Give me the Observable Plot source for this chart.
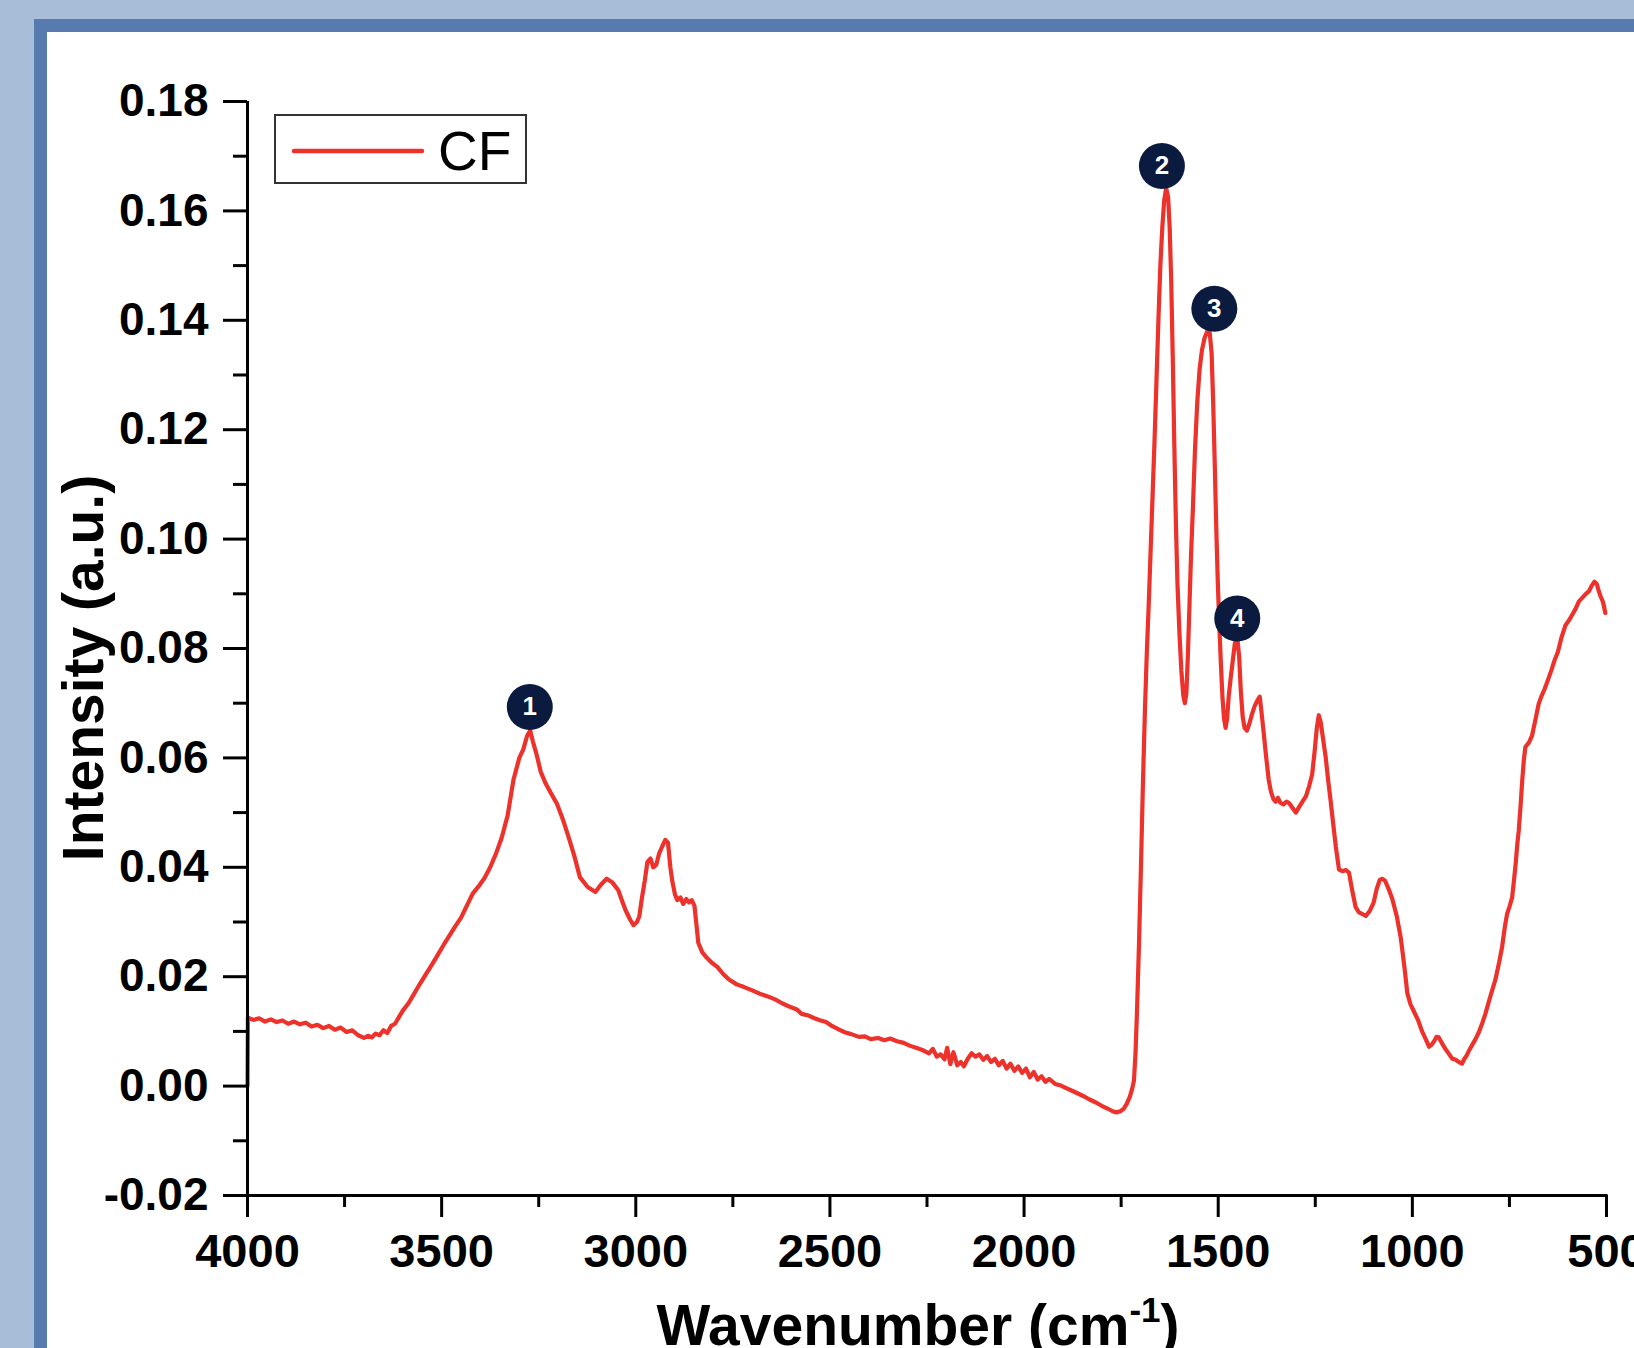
<!DOCTYPE html>
<html><head><meta charset="utf-8">
<script src="https://cdn.jsdelivr.net/npm/d3@7"></script>
<script src="https://cdn.jsdelivr.net/npm/@observablehq/plot@0.6"></script>
<style>
html,body{margin:0;padding:0;}
body{width:1634px;height:1348px;overflow:hidden;background:#a8bdd8;position:relative;font-family:"Liberation Sans",Arial,sans-serif;}
#panel{position:absolute;left:34px;top:19px;width:1600px;height:1329px;box-sizing:border-box;background:#fff;border-left:13px solid #577bae;border-top:13px solid #577bae;}
#chart{position:absolute;left:0;top:0;}
#chart svg{overflow:visible;max-width:none;}
</style></head><body>
<div id="panel"></div>
<div id="chart"></div>
<script>
const wavenumber = [
4000,3999,3985,3970,3955,3940,3925,3910,3895,3880,3865,3850,3835,3820,3805,3790,3775,3760,3745,3730,3715,3700,3690,3680,3670,3660,3650,3640,3630,3620,3610,3600,
3585,3570,3555,3540,3525,3510,3495,3480,3465,3450,3435,3420,3405,3390,3375,3360,3345,3330,3315,3300,3290,3280,3272,3265,3255,3245,3232,3218,3203,3188,3173,3158,3144,3124,3104,3090,3075,3060,3045,3035,3026,3015,3006,2997,2991,2984,2977,2970,2962,2955,2947,2940,2932,2924,2917,2911,2906,2899,2893,2885,2878,2870,2863,2856,2849,2843,2839,2829,2819,2805,2790,2775,2760,2740,2721,2700,2681,2660,2640,2622,2600,2585,2573,2555,2540,2524,2510,2495,2475,2460,2445,2425,2410,2395,2376,2360,2345,2327,2310,2295,2278,2262,2245,2235,2225,2215,2205,2198,2190,2182,2172,2163,2155,2145,2135,2125,2115,2105,2095,2085,2075,2065,2055,2045,2035,2025,2015,2005,1995,1985,1975,1965,1955,1945,1935,1920,1905,1890,1875,1860,1845,1830,1815,1800,1785,1772,1762,1752,1744,1736,1728,1722,1717,
1713,1709,1704,1699,1694,1689,1684,1679,1674,1669,1664,1659,1654,1649,1644,1639,1634,1629,1625,1621,1617,1613,1609,1605,1600,1595,1590,1586,1582,1578,1574,1570,1565,1560,1554,1548,1542,1535,1528,1522,1517,1513,1509,1505,1501,1497,1493,1489,1485,1481,1477,1473,1468,1463,1457,1451,1446,1442,1437,1432,1426,1420,1413,1406,1399,1393,1388,1382,1377,1370,1364,1358,1352,1346,1340,1332,1324,1317,1308,1300,1292,1283,1274,1266,1258,1252,1246,1241,1236,1230,1223,1217,1211,1204,1197,1189,1180,1171,1163,1155,1146,1138,1130,1120,1110,1100,1092,1084,1077,1070,1062,1052,1040,1030,1020,1013,1005,995,985,975,965,957,950,944,938,932,925,915,905,897,888,880,872,866,860,854,846,838,829,820,812,800,786,776,769,762,756,749,743,738,734,730,726,721,717,713,709,700,692,683,675,668,660,652,642,633,625,616,606,596,588,580,571,562,553,545,538,531,525,520,515,509,503
];
const intensity = [
0.0000,0.0125,0.0121,0.0124,0.0118,0.0122,0.0117,0.0120,0.0114,0.0118,0.0113,0.0116,0.0109,0.0112,0.0106,0.0110,0.0103,0.0107,0.0099,0.0102,0.0093,0.0088,0.0092,0.0089,0.0096,0.0093,0.0102,0.0097,0.0110,0.0114,0.0126,0.0138,
0.0152,0.0170,0.0188,0.0205,0.0222,0.0240,0.0258,0.0275,0.0292,0.0308,0.0330,0.0352,0.0365,0.0380,0.0400,0.0425,0.0455,0.0495,0.0560,0.0600,0.0615,0.0640,0.0650,0.0630,0.0605,0.0575,0.0553,0.0535,0.0516,0.0488,0.0455,0.0420,0.0382,0.0364,0.0355,0.0368,0.0379,0.0372,0.0358,0.0338,0.0321,0.0305,0.0294,0.0300,0.0310,0.0345,0.0375,0.0410,0.0416,0.0400,0.0405,0.0425,0.0438,0.0450,0.0445,0.0400,0.0375,0.0350,0.0340,0.0345,0.0333,0.0342,0.0336,0.0340,0.0330,0.0290,0.0262,0.0245,0.0236,0.0226,0.0218,0.0205,0.0195,0.0186,0.0181,0.0175,0.0169,0.0164,0.0158,0.0151,0.0144,0.0140,0.0132,0.0129,0.0124,0.0120,0.0117,0.0110,0.0103,0.0098,0.0095,0.0090,0.0091,0.0086,0.0088,0.0084,0.0087,0.0082,0.0079,0.0074,0.0070,0.0066,0.0060,0.0068,0.0054,0.0058,0.0049,0.0070,0.0040,0.0062,0.0038,0.0044,0.0036,0.0050,0.0060,0.0054,0.0058,0.0048,0.0055,0.0044,0.0050,0.0038,0.0046,0.0032,0.0041,0.0028,0.0036,0.0024,0.0032,0.0016,0.0026,0.0012,0.0018,0.0008,0.0013,0.0004,0.0001,-0.0004,-0.0009,-0.0014,-0.0019,-0.0025,-0.0030,-0.0036,-0.0041,-0.0046,-0.0048,-0.0046,-0.0042,-0.0033,-0.0020,-0.0006,0.0010,
0.0060,0.0140,0.0260,0.0400,0.0550,0.0680,0.0790,0.0880,0.0980,0.1080,0.1180,0.1290,0.1400,0.1500,0.1570,0.1620,0.1642,0.1625,0.1570,0.1470,0.1330,0.1170,0.1030,0.0920,0.0830,0.0760,0.0715,0.0700,0.0718,0.0790,0.0880,0.0970,0.1060,0.1160,0.1250,0.1310,0.1345,0.1368,0.1380,0.1378,0.1340,0.1250,0.1140,0.1020,0.0920,0.0840,0.0770,0.0710,0.0672,0.0655,0.0672,0.0712,0.0745,0.0775,0.0810,0.0820,0.0785,0.0725,0.0675,0.0655,0.0650,0.0662,0.0680,0.0695,0.0705,0.0712,0.0680,0.0640,0.0605,0.0560,0.0538,0.0525,0.0520,0.0527,0.0518,0.0515,0.0520,0.0517,0.0508,0.0500,0.0510,0.0520,0.0530,0.0548,0.0570,0.0610,0.0655,0.0678,0.0665,0.0635,0.0600,0.0560,0.0525,0.0480,0.0437,0.0396,0.0393,0.0395,0.0390,0.0358,0.0327,0.0318,0.0315,0.0311,0.0320,0.0335,0.0360,0.0377,0.0379,0.0375,0.0362,0.0343,0.0310,0.0272,0.0215,0.0170,0.0150,0.0135,0.0120,0.0100,0.0085,0.0072,0.0076,0.0082,0.0090,0.0089,0.0080,0.0068,0.0058,0.0050,0.0048,0.0044,0.0041,0.0050,0.0056,0.0065,0.0075,0.0085,0.0098,0.0115,0.0132,0.0162,0.0195,0.0228,0.0254,0.0290,0.0315,0.0330,0.0345,0.0378,0.0406,0.0440,0.0467,0.0515,0.0559,0.0595,0.0620,0.0628,0.0640,0.0670,0.0698,0.0712,0.0725,0.0740,0.0760,0.0780,0.0794,0.0820,0.0842,0.0852,0.0862,0.0872,0.0886,0.0893,0.0900,0.0905,0.0915,0.0922,0.0918,0.0905,0.0895,0.0885,0.0865
];
const xTicks = [4000,3500,3000,2500,2000,1500,1000,500];
const xMinorTicks = [3750,3250,2750,2250,1750,1250,750];
const yTicks = [-0.02,0.00,0.02,0.04,0.06,0.08,0.10,0.12,0.14,0.16,0.18];
const yMinorTicks = [-0.01,0.01,0.03,0.05,0.07,0.09,0.11,0.13,0.15,0.17];
const seriesName = "CF";
const peakLabels = ["1","2","3","4"];
const peakWn = [3273,1645,1510,1451];
const peakY = [0.0693,0.1682,0.1421,0.0855];
const xTitle = "Wavenumber (cm";
const xTitleSup = "-1";
const yTitle = "Intensity (a.u.)";

const data = wavenumber.map((w,i)=>({w, v: intensity[i]}));
const peaks = peakLabels.map((l,i)=>({l, w: peakWn[i], v: peakY[i]}));
const red = "#ed312b";
const font = "'Liberation Sans', Arial, sans-serif";

const plot = Plot.plot({
  width:1634, height:1348,
  marginLeft:247, marginRight:28, marginTop:101, marginBottom:153,
  style:{background:"transparent", fontFamily:font, color:"#000"},
  x:{domain:[4000,500], label:null},
  y:{domain:[-0.02,0.18], label:null},
  marks:[
    Plot.line(data,{x:"w",y:"v",stroke:red,strokeWidth:4.2,strokeLinejoin:"round"}),
    Plot.ruleX([4000],{y1:-0.02,y2:0.18,stroke:"#000",strokeWidth:3}),
    Plot.ruleY([-0.02],{x1:4000,x2:500,stroke:"#000",strokeWidth:3,strokeLinecap:"square"}),
    Plot.axisX(xTicks,{tickSize:22,tickPadding:16,strokeWidth:3,fontSize:47,fontWeight:"bold",tickFormat:d=>String(d),label:null}),
    Plot.axisX(xMinorTicks,{tickSize:12,strokeWidth:3,tickFormat:()=>"",label:null}),
    Plot.axisY(yTicks,{tickSize:24,tickPadding:15,strokeWidth:3,fontSize:46,fontWeight:"bold",tickFormat:d=>d.toFixed(2),label:null}),
    Plot.axisY(yMinorTicks,{tickSize:14,strokeWidth:3,tickFormat:()=>"",label:null}),
    Plot.dot(peaks,{x:"w",y:"v",r:23,fill:"#0b1a3f",stroke:null}),
    Plot.text(peaks,{x:"w",y:"v",text:"l",fill:"#fff",fontSize:26,fontWeight:"bold"})
  ]
});
document.getElementById("chart").appendChild(plot);

const svg = d3.select(plot);
svg.append("text")
  .attr("transform","translate(103,668) rotate(-90)")
  .attr("text-anchor","middle").attr("font-size",57).attr("font-weight","bold")
  .attr("font-family",font).attr("fill","#000").text(yTitle);
const xt = svg.append("text").attr("x",918).attr("y",1345)
  .attr("text-anchor","middle").attr("font-size",57).attr("font-weight","bold")
  .attr("font-family",font).attr("fill","#000");
xt.append("tspan").text(xTitle);
xt.append("tspan").attr("font-size",35).attr("dy",-23).text(xTitleSup);
xt.append("tspan").attr("dy",23).text(")");

const lg = svg.append("g");
lg.append("rect").attr("x",275).attr("y",115).attr("width",251).attr("height",68)
  .attr("fill","#fff").attr("stroke","#333").attr("stroke-width",2);
lg.append("line").attr("x1",294).attr("x2",422).attr("y1",151).attr("y2",151)
  .attr("stroke",red).attr("stroke-width",4.5).attr("stroke-linecap","round");
lg.append("text").attr("x",438).attr("y",170).attr("font-size",55)
  .attr("text-anchor","start")
  .attr("font-family",font).attr("fill","#000").text(seriesName);
</script>
</body></html>
